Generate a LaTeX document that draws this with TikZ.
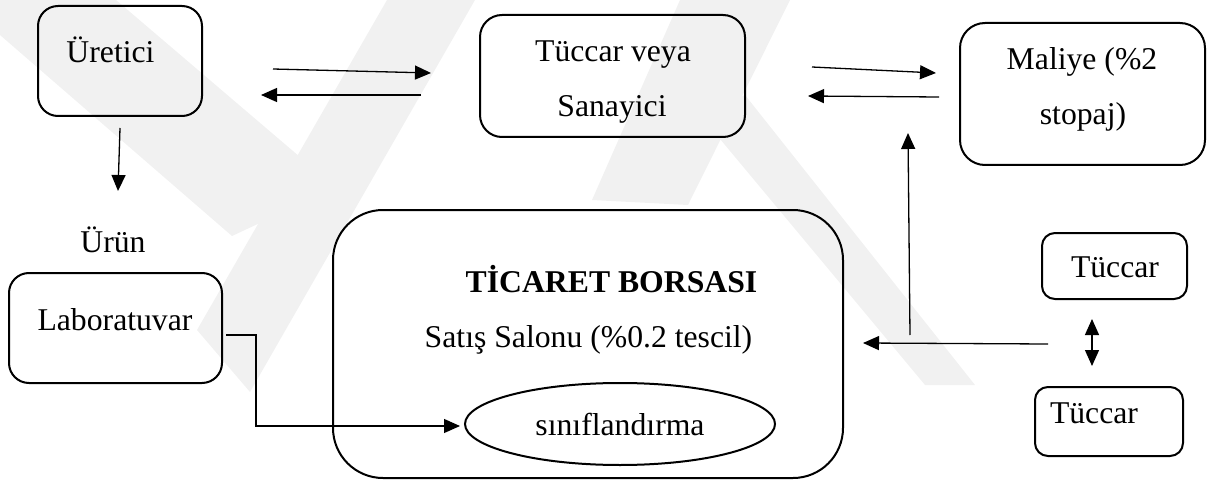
\documentclass[tikz,border=0pt]{standalone}
\usepackage{fontspec}
\setmainfont{Liberation Serif}
\usetikzlibrary{arrows.meta,shapes.geometric}
\definecolor{wm}{gray}{0.945}
\begin{document}
\begin{tikzpicture}[x=1pt,y=-1pt,
  box/.style={draw, line width=2pt, rounded corners=#1, inner sep=0pt},
  box/.default=20pt,
  txt/.style={font=\fontsize{31.7}{38}\selectfont, inner sep=0pt, anchor=base},
  arr/.style={line width=1.3pt, -{Triangle[length=16pt,width=14pt]}},
  darr/.style={line width=1.3pt, {Triangle[length=16pt,width=14pt]}-{Triangle[length=16pt,width=14pt]}}]
\useasboundingbox (0,0) rectangle (1213,484);
% faint watermark
\fill[wm] (0,0) -- (116,0) -- (300,157) -- (262,222) -- (232,236) -- (0,35) -- cycle;
\fill[wm] (387,0) -- (475,0) -- (250,392) -- (197,330) -- cycle;
\fill[wm] (680,0) -- (790,0) -- (688,205) -- (592,200) -- cycle;
\fill[wm] (700,115) -- (745,95) -- (975,385) -- (925,385) -- cycle;
% boxes
\node[box=20pt, minimum width=164pt, minimum height=110pt] (ur) at (120,61) {};
\node[txt] (urt) at (110.5,63) {Üretici};
\node[box=22pt, minimum width=265pt, minimum height=122pt] (ts) at (612.5,76) {};
\node[txt] (ts1) at (613,62) {Tüccar veya};
\node[txt] (ts2) at (612,117) {Sanayici};
\node[box=25pt, minimum width=245pt, minimum height=142pt] (mal) at (1082.5,94) {};
\node[txt] (mal1) at (1082,70) {Maliye (\%2};
\node[txt] (mal2) at (1083,125) {stopaj)};
\node[txt] (urun) at (113,252) {Ürün};
\node[box=20pt, minimum width=213pt, minimum height=110pt] (lab) at (115.5,328) {};
\node[txt] (labt) at (115,330) {Laboratuvar};
\node[box=50pt, minimum width=510pt, minimum height=268pt] (mb) at (588,344) {};
\node[txt, font=\fontsize{31.7}{38}\selectfont\bfseries] (mbt) at (611.5,292) {TİCARET BORSASI};
\node[txt] (mbs) at (588.5,347) {Satış Salonu (\%0.2 tescil)};
\node[ellipse, draw, line width=2pt, minimum width=310pt, minimum height=82pt, inner sep=0pt,
      font=\fontsize{31.7}{38}\selectfont] (el) at (620,424) {sınıflandırma};
\node[box=13pt, minimum width=145pt, minimum height=66pt] (t1) at (1114.5,266) {};
\node[txt] (t1t) at (1115,277) {Tüccar};
\node[box=13pt, minimum width=148pt, minimum height=69pt] (t2) at (1109,421.5) {};
\node[txt] (t2t) at (1094,423) {Tüccar};
% connectors
\draw[arr] ([shift={(70,8)}]ur.east) -- ([shift={(-48,-3)}]ts.west);
\draw[arr] ([shift={(-58,19)}]ts.west) -- ([shift={(58,34)}]ur.east);
\draw[arr] ([shift={(0,11)}]ur.south) -- ([shift={(-2,74)}]ur.south);
\draw[arr] ([shift={(66,-9)}]ts.east) -- ([shift={(-23,-21)}]mal.west);
\draw[arr] ([shift={(-20,3)}]mal.west) -- ([shift={(62,20)}]ts.east);
\draw[arr] ([shift={(66,-9)}]mb.east) -- ([shift={(-51,39)}]mal.west);
\draw[arr] ([shift={(-66.5,44)}]t1.south) -- ([shift={(19,-1)}]mb.east);
\draw[darr] ([shift={(-22.5,19)}]t1.south) -- ([shift={(-17,-20)}]t2.north);
\draw[arr, line width=1.2pt] ([shift={(3,7)}]lab.east) -- ++(30,0) |- ([shift={(-4,2)}]el.west);
\end{tikzpicture}
\end{document}
